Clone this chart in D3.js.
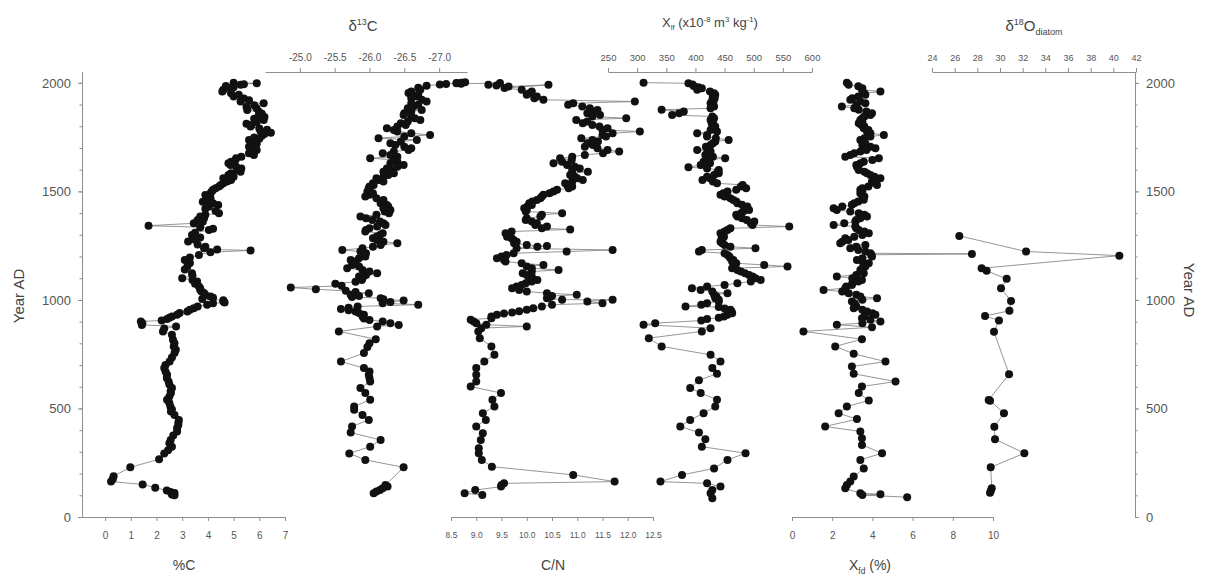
<!DOCTYPE html>
<meta charset="utf-8">
<style>
body { margin: 0; background: #fff; }
svg text { font-family: "Liberation Sans", Arial, sans-serif; fill: #555; }
.axis path, .axis line { stroke: #8e8e8e; stroke-width: 1; }
.ttl { fill: #444; }
</style>
<body>
<script src="https://d3js.org/d3.v7.min.js"></script>
<script>
// [year AD, value]
var pctC = [[2001,5.0],[1998,5.9],[1994,5.4],[1991,5.27],[1985,4.7],[1980,5.0],[1975,4.88],[1968,4.6],[1960,4.56],[1952,4.9],[1945,5.2],[1937,5.0],[1928,5.4],[1920,5.6],[1914,5.27],[1906,6.17],[1897,5.8],[1890,5.5],[1882,5.9],[1875,5.53],[1866,6.0],[1858,6.1],[1852,5.98],[1843,6.2],[1835,5.8],[1829,6.17],[1820,5.9],[1812,5.5],[1806,5.7],[1799,5.66],[1790,6.0],[1784,6.3],[1776,6.05],[1770,6.45],[1764,6.2],[1756,6.1],[1748,5.8],[1742,6.0],[1737,5.6],[1728,5.7],[1720,5.9],[1714,5.8],[1706,5.6],[1698,5.8],[1691,5.9],[1684,5.75],[1676,5.6],[1668,5.79],[1660,5.3],[1653,5.1],[1645,5.07],[1637,4.9],[1630,4.8],[1622,4.88],[1614,5.1],[1606,5.3],[1599,5.15],[1591,5.27],[1584,4.9],[1576,4.8],[1568,5.0],[1560,4.6],[1553,4.9],[1545,4.75],[1537,4.6],[1530,4.5],[1522,4.43],[1514,4.3],[1507,4.2],[1499,4.15],[1491,4.1],[1483,3.9],[1476,4.0],[1468,4.1],[1460,3.97],[1452,3.8],[1445,4.2],[1437,4.4],[1430,4.04],[1420,3.9],[1410,4.3],[1399,4.43],[1392,3.9],[1384,3.7],[1376,3.85],[1368,3.6],[1360,3.8],[1353,3.45],[1342,1.69],[1335,3.7],[1328,4.2],[1322,4.04],[1310,3.5],[1299,3.38],[1288,3.7],[1278,3.5],[1269,3.23],[1255,3.6],[1245,3.9],[1238,3.85],[1232,4.36],[1228,5.66],[1220,4.1],[1207,3.65],[1196,3.3],[1184,3.1],[1170,3.3],[1154,3.2],[1140,3.1],[1123,3.38],[1112,3.4],[1100,3.0],[1092,3.4],[1085,3.58],[1075,3.5],[1062,3.65],[1054,3.7],[1047,3.7],[1039,3.75],[1032,3.85],[1024,3.9],[1016,4.1],[1010,4.2],[1004,3.78],[998,4.6],[993,4.6],[988,4.65],[985,4.2],[978,3.97],[970,3.6],[962,3.45],[955,3.3],[947,3.2],[940,2.9],[932,2.8],[924,2.6],[918,2.5],[912,2.41],[905,2.2],[901,1.39],[893,1.45],[885,1.43],[878,2.76],[868,2.3],[855,2.25],[840,2.6],[816,2.64],[800,2.7],[786,2.67],[770,2.75],[755,2.7],[735,2.6],[716,2.51],[700,2.35],[686,2.3],[670,2.35],[655,2.41],[640,2.4],[624,2.47],[610,2.5],[594,2.6],[580,2.55],[571,2.56],[555,2.5],[540,2.41],[525,2.5],[509,2.54],[495,2.6],[486,2.56],[470,2.7],[447,2.87],[435,2.85],[424,2.85],[410,2.8],[394,2.8],[375,2.65],[355,2.55],[340,2.5],[324,2.6],[308,2.45],[293,2.3],[266,2.1],[229,0.98],[188,0.33],[175,0.3],[163,0.23],[150,1.46],[135,1.95],[122,2.4],[115,2.55],[110,2.7],[104,2.6],[100,2.7]];

var d13C = [[2000,-27.32],[1998,-27.25],[1995,-27.1],[1992,-27.01],[1987,-26.82],[1978,-26.7],[1968,-26.73],[1960,-26.6],[1953,-26.56],[1945,-26.7],[1937,-26.68],[1929,-26.6],[1922,-26.75],[1914,-26.82],[1906,-26.6],[1899,-26.7],[1891,-26.63],[1883,-26.55],[1875,-26.75],[1868,-26.6],[1860,-26.5],[1852,-26.49],[1845,-26.6],[1837,-26.65],[1829,-26.73],[1822,-26.55],[1814,-26.45],[1806,-26.52],[1799,-26.4],[1791,-26.25],[1783,-26.35],[1776,-26.4],[1768,-26.6],[1760,-26.87],[1753,-26.5],[1745,-26.13],[1737,-26.68],[1730,-26.45],[1722,-26.3],[1714,-26.37],[1706,-26.5],[1699,-26.6],[1691,-26.56],[1684,-26.35],[1676,-26.19],[1668,-26.3],[1660,-26.4],[1653,-26.01],[1645,-26.35],[1637,-26.4],[1630,-26.3],[1622,-26.49],[1614,-26.4],[1606,-26.25],[1599,-26.32],[1591,-26.2],[1584,-26.35],[1576,-26.27],[1568,-26.2],[1561,-26.1],[1553,-26.13],[1545,-26.2],[1537,-26.05],[1530,-26.06],[1522,-26.0],[1514,-25.99],[1507,-26.0],[1499,-25.97],[1491,-26.05],[1484,-26.0],[1476,-25.94],[1468,-26.1],[1460,-26.2],[1453,-26.2],[1445,-26.16],[1437,-26.25],[1430,-26.27],[1422,-26.2],[1414,-26.3],[1407,-26.22],[1399,-26.28],[1392,-26.1],[1384,-25.87],[1376,-25.95],[1368,-26.04],[1361,-26.15],[1353,-26.2],[1345,-26.23],[1338,-26.11],[1330,-26.0],[1322,-25.95],[1315,-25.94],[1307,-26.19],[1299,-26.15],[1291,-26.1],[1284,-26.05],[1276,-26.11],[1268,-26.2],[1261,-26.4],[1253,-26.16],[1245,-26.05],[1238,-25.9],[1230,-25.61],[1223,-25.87],[1215,-25.95],[1207,-25.9],[1200,-25.94],[1192,-25.85],[1184,-25.73],[1177,-25.8],[1169,-25.8],[1161,-25.75],[1154,-25.85],[1146,-25.68],[1138,-25.9],[1131,-26.0],[1123,-26.11],[1115,-25.95],[1108,-25.85],[1100,-25.9],[1092,-25.89],[1084,-25.8],[1074,-25.51],[1065,-25.6],[1057,-24.87],[1049,-25.23],[1042,-25.66],[1036,-25.8],[1031,-25.99],[1024,-25.73],[1018,-25.85],[1013,-25.75],[1008,-26.16],[1003,-26.2],[997,-26.49],[991,-26.3],[985,-26.19],[978,-26.7],[970,-25.83],[964,-25.7],[958,-25.59],[952,-25.7],[947,-25.8],[940,-25.85],[932,-25.92],[924,-25.9],[915,-25.92],[908,-26.0],[901,-26.19],[893,-26.3],[885,-26.42],[878,-26.11],[855,-25.56],[819,-26.09],[800,-26.0],[783,-25.97],[755,-25.92],[716,-25.59],[686,-25.92],[670,-26.0],[655,-25.99],[640,-26.0],[624,-26.01],[594,-25.87],[571,-25.94],[540,-26.01],[509,-25.78],[494,-25.78],[470,-25.9],[447,-25.99],[417,-25.75],[389,-25.73],[355,-26.16],[324,-26.01],[293,-25.71],[263,-25.94],[229,-26.49],[147,-26.23],[140,-26.26],[132,-26.19],[124,-26.15],[117,-26.1],[109,-26.06]];

var cn = [[2003,8.78],[1999,8.61],[1996,8.7],[1999,9.47],[1991,9.24],[1988,9.4],[1983,9.64],[1991,10.43],[1976,9.56],[1968,9.9],[1960,10.1],[1952,10.05],[1945,10.0],[1937,10.2],[1929,10.15],[1922,10.33],[1914,12.14],[1906,10.92],[1899,10.82],[1891,11.1],[1883,11.25],[1875,11.4],[1868,11.31],[1860,11.2],[1852,11.45],[1845,11.3],[1837,11.97],[1829,10.98],[1822,11.2],[1814,11.11],[1806,11.3],[1799,11.44],[1791,11.6],[1783,11.5],[1776,12.24],[1768,11.7],[1760,11.5],[1753,11.57],[1745,11.08],[1737,11.3],[1730,11.41],[1722,11.2],[1714,11.31],[1706,11.15],[1699,11.4],[1691,11.6],[1684,11.83],[1676,11.51],[1668,11.15],[1660,10.9],[1653,10.66],[1645,10.89],[1637,10.7],[1630,10.53],[1622,10.8],[1614,10.95],[1606,11.05],[1599,10.9],[1591,11.21],[1584,10.9],[1576,10.86],[1568,10.95],[1561,11.0],[1553,11.11],[1545,10.9],[1537,10.76],[1530,10.8],[1522,10.9],[1514,10.83],[1507,10.6],[1499,10.53],[1491,10.45],[1484,10.33],[1476,10.3],[1468,10.27],[1460,10.2],[1453,10.11],[1445,10.05],[1437,10.1],[1430,10.01],[1422,9.95],[1414,10.0],[1407,9.98],[1399,10.7],[1392,10.3],[1384,10.27],[1376,10.0],[1368,9.98],[1361,10.1],[1353,10.2],[1345,10.17],[1338,10.4],[1330,10.3],[1325,10.86],[1315,9.7],[1307,9.58],[1299,9.65],[1291,9.61],[1284,9.7],[1276,9.74],[1268,9.8],[1261,9.75],[1253,10.0],[1248,10.4],[1245,10.21],[1238,9.8],[1230,11.7],[1223,10.79],[1215,9.74],[1207,9.6],[1200,9.5],[1192,9.41],[1184,9.55],[1177,9.58],[1169,9.9],[1161,10.33],[1154,10.0],[1146,10.1],[1138,10.63],[1131,10.1],[1123,9.92],[1115,10.0],[1108,10.1],[1100,10.05],[1092,10.21],[1085,10.1],[1077,9.98],[1069,9.9],[1062,9.8],[1054,9.71],[1046,9.85],[1039,10.0],[1031,10.4],[1024,10.99],[1018,10.5],[1013,10.46],[1008,10.4],[1001,10.7],[1001,11.7],[993,11.2],[985,11.5],[978,10.5],[970,10.3],[962,10.13],[955,10.0],[948,9.85],[942,9.71],[937,9.55],[932,9.41],[924,9.3],[916,9.3],[909,8.89],[901,8.95],[893,9.0],[886,9.2],[878,10.0],[870,9.1],[855,9.04],[824,9.07],[786,9.3],[747,9.36],[716,9.16],[686,9.0],[655,9.0],[624,9.0],[601,8.89],[571,9.49],[540,9.32],[509,9.36],[478,9.13],[447,9.19],[417,9.0],[386,9.13],[355,9.09],[317,9.05],[294,9.05],[263,9.11],[232,9.31],[194,10.92],[163,11.74],[155,9.55],[147,9.5],[140,9.49],[124,8.98],[109,8.77],[101,9.12]];

var xlf = [[2001,311],[1998,388],[1992,395],[1986,397],[1980,405],[1975,411],[1968,403],[1960,425],[1952,432],[1945,434],[1937,430],[1929,433],[1922,429],[1914,431],[1906,426],[1899,428],[1891,432],[1883,426],[1876,342],[1868,380],[1860,372],[1852,360],[1845,429],[1837,432],[1829,426],[1822,430],[1814,428],[1806,429],[1799,434],[1791,432],[1783,426],[1776,437],[1768,403],[1760,420],[1753,420],[1745,435],[1737,457],[1730,434],[1722,430],[1714,426],[1706,418],[1699,422],[1691,403],[1684,426],[1676,420],[1668,417],[1660,430],[1653,451],[1645,420],[1637,414],[1630,425],[1622,409],[1611,388],[1606,420],[1599,440],[1591,438],[1584,440],[1576,432],[1568,420],[1561,425],[1553,412],[1545,430],[1537,437],[1530,481],[1522,478],[1514,487],[1507,470],[1499,455],[1491,448],[1484,443],[1476,450],[1468,460],[1460,465],[1453,470],[1445,472],[1438,480],[1430,489],[1422,486],[1414,492],[1407,482],[1399,478],[1392,470],[1384,472],[1376,480],[1368,488],[1361,501],[1353,495],[1345,498],[1338,561],[1330,460],[1322,455],[1315,450],[1307,443],[1299,446],[1291,449],[1284,445],[1276,446],[1268,443],[1261,446],[1253,450],[1245,460],[1238,503],[1230,411],[1223,406],[1215,450],[1207,455],[1200,458],[1192,460],[1184,465],[1177,463],[1169,470],[1161,518],[1154,558],[1146,463],[1138,472],[1131,478],[1123,485],[1115,492],[1108,498],[1100,503],[1092,512],[1085,495],[1077,472],[1069,450],[1062,420],[1054,394],[1046,409],[1039,429],[1031,455],[1024,432],[1016,436],[1008,434],[1001,440],[993,440],[985,420],[978,410],[970,383],[967,440],[961,450],[955,460],[947,462],[939,463],[932,455],[924,449],[918,440],[912,420],[905,410],[893,331],[886,311],[870,426],[855,411],[824,320],[786,342],[747,426],[716,443],[686,429],[660,437],[630,406],[594,391],[571,409],[540,437],[509,434],[478,414],[447,391],[417,374],[389,406],[358,417],[324,411],[294,486],[263,455],[224,432],[194,377],[163,340],[155,420],[140,443],[124,429],[109,426],[86,429]];

var xfd = [[2000,2.73],[1991,2.82],[1984,3.3],[1975,3.5],[1968,3.48],[1960,4.4],[1952,3.6],[1945,3.65],[1937,3.3],[1929,3.0],[1922,2.9],[1914,3.4],[1906,3.65],[1899,3.2],[1891,2.48],[1883,3.1],[1876,3.32],[1868,3.7],[1860,3.98],[1852,3.9],[1845,3.6],[1837,3.5],[1829,3.4],[1822,3.5],[1814,3.32],[1806,3.45],[1799,3.6],[1791,3.57],[1783,3.8],[1776,3.73],[1768,3.9],[1760,4.57],[1753,3.9],[1745,3.6],[1737,3.4],[1730,3.5],[1722,3.65],[1714,3.5],[1706,3.9],[1699,4.15],[1691,3.7],[1684,3.4],[1676,3.1],[1668,2.9],[1660,2.65],[1653,4.32],[1645,4.0],[1637,3.57],[1630,3.4],[1622,3.2],[1614,3.23],[1606,3.3],[1599,3.32],[1591,3.6],[1584,3.73],[1576,3.9],[1568,4.1],[1561,4.4],[1553,4.1],[1545,3.98],[1537,4.15],[1530,4.23],[1522,3.8],[1514,3.5],[1507,3.4],[1499,3.5],[1491,3.4],[1484,3.48],[1476,3.6],[1468,3.55],[1461,3.57],[1453,3.3],[1445,3.1],[1438,2.98],[1430,2.5],[1422,2.07],[1414,2.23],[1407,2.9],[1399,3.32],[1392,3.6],[1384,3.73],[1376,3.4],[1368,3.2],[1361,3.15],[1353,2.6],[1345,2.07],[1338,3.15],[1330,3.2],[1322,3.32],[1315,3.6],[1307,3.82],[1299,3.5],[1291,3.1],[1284,2.65],[1276,2.8],[1268,2.5],[1261,2.4],[1253,3.65],[1245,3.2],[1238,2.9],[1230,3.3],[1223,3.65],[1215,3.9],[1212,8.95],[1208,3.95],[1200,3.98],[1192,3.5],[1184,3.23],[1177,3.5],[1169,3.82],[1161,3.6],[1154,3.65],[1146,3.5],[1138,3.4],[1131,3.5],[1123,3.57],[1115,3.2],[1108,2.23],[1100,3.0],[1092,3.48],[1085,3.3],[1077,3.0],[1069,2.98],[1062,2.7],[1054,2.65],[1046,1.57],[1039,2.5],[1031,2.82],[1024,3.2],[1016,3.4],[1008,4.23],[1001,3.5],[993,2.98],[985,3.1],[978,3.15],[970,3.2],[962,3.07],[955,3.5],[947,3.73],[939,4.0],[932,4.15],[924,3.6],[916,3.48],[909,3.9],[901,4.4],[893,3.5],[886,2.23],[874,3.98],[855,0.57],[819,3.48],[786,2.15],[752,3.07],[716,4.65],[693,2.98],[660,3.07],[624,5.15],[601,3.48],[571,3.32],[537,3.82],[509,2.73],[478,2.32],[451,3.23],[417,1.65],[394,3.4],[363,3.48],[332,3.48],[294,4.48],[263,3.4],[224,3.57],[186,3.07],[163,2.9],[147,2.73],[132,2.65],[109,3.4],[105,4.4],[101,3.5],[91,5.73]];

var d18O = [[1295,26.41],[1223,32.3],[1204,40.53],[1146,28.38],[1134,28.82],[1097,30.59],[1054,30.09],[995,30.97],[950,30.83],[926,28.68],[905,29.91],[853,29.47],[658,30.8],[539,29.0],[536,29.12],[478,30.35],[416,29.5],[358,29.56],[294,32.15],[229,29.18],[132,29.27],[122,29.2],[112,29.12]];

var yearTicks = [0, 500, 1000, 1500, 2000];

var svg = d3.select("body").append("svg")
    .attr("width", 1205)
    .attr("height", 583);

var yTop = 72, yBot = 517;
var y = d3.scaleLinear().domain([0, 2050]).range([yBot, yTop]);

function fmt1(d) { return d.toFixed(1); }
function fmt0(d) { return String(d); }

var panels = [
  {data: pctC, dom: [-0.9, 7], rng: [82, 285], side: "bottom", ticks: d3.range(0, 8), f: fmt0, fs: 10},
  {data: d13C, dom: [-24.5, -27.4], rng: [265, 467], side: "top", ticks: [-25, -25.5, -26, -26.5, -27], f: fmt1, fs: 10},
  {data: cn, dom: [8.5, 12.5], rng: [451, 653], side: "bottom", ticks: d3.range(8.5, 12.51, 0.5), f: fmt1, fs: 8.5},
  {data: xlf, dom: [250, 600], rng: [608, 812], side: "top", ticks: d3.range(250, 601, 50), f: fmt0, fs: 9.5},
  {data: xfd, dom: [0, 10], rng: [792, 993], side: "bottom", ticks: d3.range(0, 11, 2), f: fmt0, fs: 10},
  {data: d18O, dom: [24, 42], rng: [932, 1136], side: "top", ticks: d3.range(24, 43, 2), f: fmt0, fs: 9}
];

panels.forEach(function(p) {
  var x = d3.scaleLinear().domain(p.dom).range(p.rng);
  var top = p.side == "top";
  var ax = (top ? d3.axisTop(x) : d3.axisBottom(x))
      .tickValues(p.ticks).tickFormat(p.f)
      .tickSize(4).tickSizeOuter(0).tickPadding(top ? 7 : 11);
  var g = svg.append("g")
      .attr("class", "axis")
      .attr("transform", "translate(0," + (top ? yTop : yBot) + ")")
      .call(ax);
  g.selectAll("text").style("font-size", p.fs + "px");

  var line = d3.line()
      .x(function(d) { return x(d[1]); })
      .y(function(d) { return y(d[0]); });
  svg.append("path")
      .datum(p.data)
      .attr("d", line)
      .attr("fill", "none")
      .attr("stroke", "#7a7a7a")
      .attr("stroke-width", 0.8);
  svg.append("g").selectAll("circle")
      .data(p.data)
    .enter().append("circle")
      .attr("cx", function(d) { return x(d[1]); })
      .attr("cy", function(d) { return y(d[0]); })
      .attr("r", 4)
      .attr("fill", "#111");
});

// year axes, left and right
function yearAxis(xpos, right) {
  var a = right ? d3.axisRight(y) : d3.axisLeft(y);
  svg.append("g")
      .attr("class", "axis")
      .attr("transform", "translate(" + xpos + ",0)")
      .call(a.tickValues(d3.range(0, 2001, 100)).tickSize(2.5).tickFormat("").tickSizeOuter(0));
  var g = svg.append("g")
      .attr("class", "axis")
      .attr("transform", "translate(" + xpos + ",0)")
      .call((right ? d3.axisRight(y) : d3.axisLeft(y))
        .tickValues(yearTicks).tickFormat(fmt0).tickSize(4).tickPadding(7).tickSizeOuter(0));
  g.selectAll("text").style("font-size", "13px");
}
yearAxis(82, false);
yearAxis(1135, true);

svg.append("text").attr("class", "ttl")
    .attr("transform", "translate(24,296) rotate(-90)")
    .attr("text-anchor", "middle").style("font-size", "15px")
    .text("Year AD");
svg.append("text").attr("class", "ttl")
    .attr("transform", "translate(1184,290) rotate(90)")
    .attr("text-anchor", "middle").style("font-size", "15px")
    .text("Year AD");

// axis titles with sub/superscripts
function title(x, yy, parts, fs) {
  var t = svg.append("text").attr("class", "ttl")
      .attr("x", x).attr("y", yy)
      .attr("text-anchor", "middle")
      .style("font-size", fs + "px");
  var shift = 0;
  parts.forEach(function(s) {
    var k = s[1] || 0, dy = 0, size = fs;
    if (k == 1) { dy = -0.4 * fs; size = fs * 0.6; }
    if (k == -1) { dy = 0.25 * fs; size = fs * 0.6; }
    t.append("tspan").attr("dy", dy - shift).style("font-size", size + "px").text(s[0]);
    shift = dy;
  });
}
title(184, 570, [["%C"]], 14);
title(553, 570, [["C/N"]], 14);
title(870, 570, [["X"], ["fd", -1], [" (%)"]], 14);
title(363, 31, [["\u03b4"], ["13", 1], ["C"]], 15);
title(710, 27, [["X"], ["lf", -1], [" (x10"], ["-8", 1], [" m"], ["3", 1], [" kg"], ["-1", 1], [")"]], 13);
title(1034, 31, [["\u03b4"], ["18", 1], ["O"], ["diatom", -1]], 15);
</script>
</body>
